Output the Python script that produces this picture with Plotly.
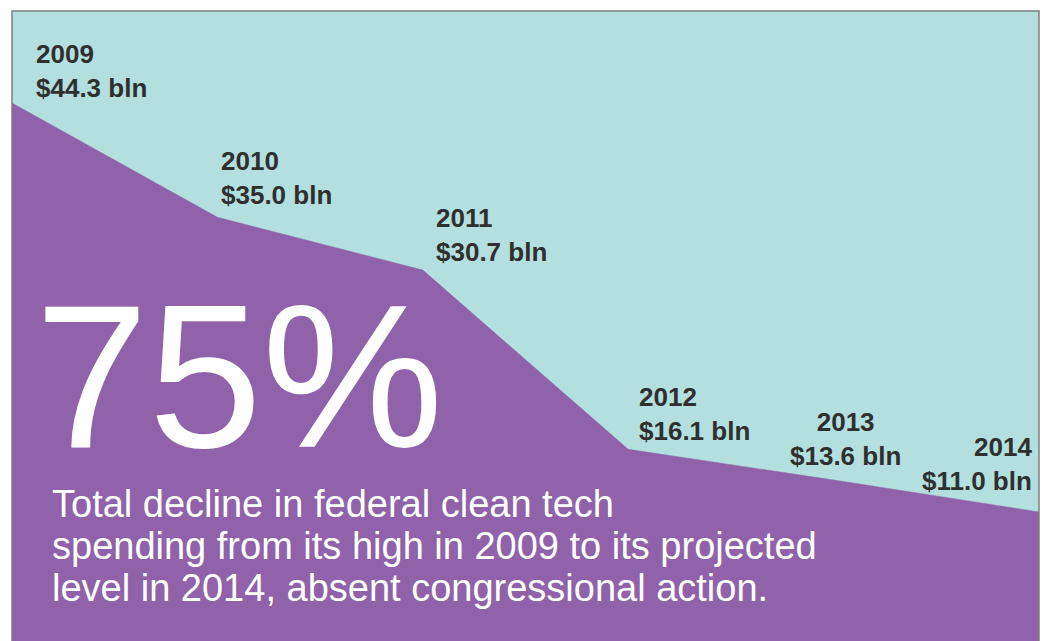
import plotly.graph_objects as go

# ---- data ----
years = [2009, 2010, 2011, 2012, 2013, 2014]
spending_bln = [44.3, 35.0, 30.7, 16.1, 13.6, 11.0]
headline_value = "75%"
caption_lines = [
    "Total decline in federal clean tech",
    "spending from its high in 2009 to its projected",
    "level in 2014, absent congressional action.",
]

# ---- styling / placement (not data) ----
PURPLE = "#8F62A9"
TEAL = "#B3E0DE"
LABEL_COLOR = "#2F2F2F"
label_xanchor = ["left", "left", "left", "left", "center", "right"]
label_align = ["left", "left", "left", "left", "center", "right"]
label_xshift = [22, 2, 11, 9, 12, -5]
label_yshift = [-2, 5, 1, 1, 7, 14]
caption_y = [0.2175, 0.1508, 0.0841]

fig = go.Figure()
fig.add_trace(go.Scatter(
    x=years, y=spending_bln, mode="lines",
    line=dict(color=PURPLE, width=0.5),
    fill="tozeroy", fillcolor=PURPLE,
    hoverinfo="skip", showlegend=False,
))

annotations = []
for i, (yr, v) in enumerate(zip(years, spending_bln)):
    annotations.append(dict(
        x=yr, y=v, xref="x", yref="y",
        text=f"<b>{yr}<br>${v:.1f} bln</b>",
        showarrow=False, xanchor=label_xanchor[i], yanchor="bottom",
        align=label_align[i], xshift=label_xshift[i], yshift=label_yshift[i],
        font=dict(family="Liberation Sans, Arial, sans-serif", size=26, color=LABEL_COLOR),
    ))

annotations.append(dict(
    x=(33 - 12) / 1027, y=0.421, xref="paper", yref="paper",
    text=headline_value, showarrow=False, xanchor="left", yanchor="middle",
    font=dict(family="Liberation Sans, Arial, sans-serif", size=204, color="white"),
))
for line, yp in zip(caption_lines, caption_y):
    annotations.append(dict(
        x=(50 - 12) / 1027, y=yp, xref="paper", yref="paper",
        text=line, showarrow=False, xanchor="left", yanchor="middle",
        font=dict(family="Liberation Sans, Arial, sans-serif", size=38, color="white"),
    ))

fig.update_layout(
    width=1046, height=641,
    margin=dict(l=12, r=7, t=11, b=0),
    paper_bgcolor="white", plot_bgcolor=TEAL,
    xaxis=dict(range=[2009, 2014], visible=False, fixedrange=True),
    yaxis=dict(range=[0.49, 51.8], visible=False, fixedrange=True),
    annotations=annotations,
    shapes=[dict(type="rect", xref="paper", yref="paper", x0=0, x1=1, y0=-0.02, y1=1,
                 line=dict(color="#7F7F7F", width=1.5), fillcolor="rgba(0,0,0,0)")],
    showlegend=False,
)

fig.write_html(
    "out.html",
    config={"displayModeBar": False},
    post_script="document.body.style.margin='0';document.body.style.overflow='hidden';",
)
